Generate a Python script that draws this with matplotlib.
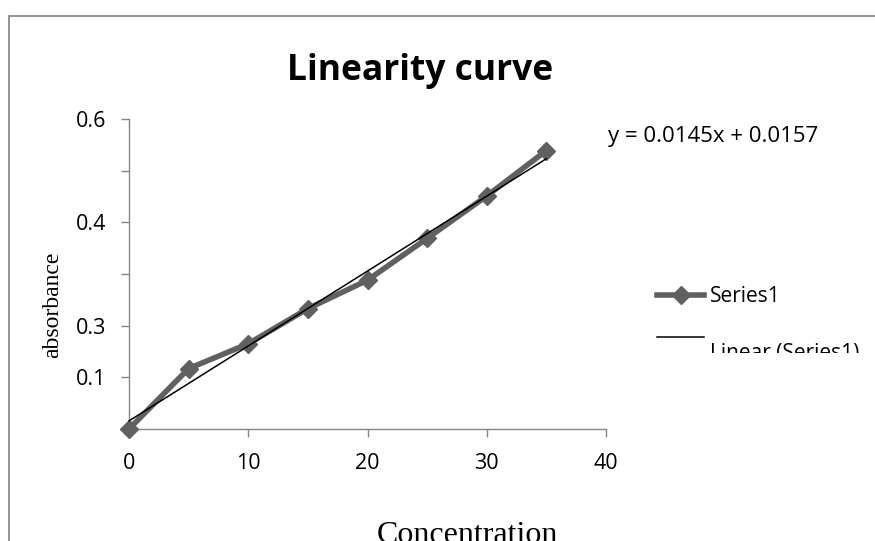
import matplotlib
matplotlib.use("Agg")
import matplotlib.pyplot as plt
from matplotlib.patches import Rectangle
from matplotlib.transforms import Bbox, TransformedBbox, offset_copy

# ---- data ----
concentration = [0, 5, 10, 15, 20, 25, 30, 35]
absorbance = [0.0, 0.117, 0.165, 0.233, 0.288, 0.369, 0.451, 0.539]
slope = 0.0145
intercept = 0.0157
x_ticks = [0, 10, 20, 30, 40]
y_ticks = [0.0, 0.1, 0.2, 0.3, 0.4, 0.5, 0.6]
y_tick_labels = ["", "0.1", "0.3", "", "0.4", "", "0.6"]
title = "Linearity curve"
equation = "y = 0.0145x + 0.0157"
series_name = "Series1"
trend_name = "Linear (Series1)"

W, H, DPI = 875, 541, 100
fig = plt.figure(figsize=(W / DPI, H / DPI), dpi=DPI)
fig.patch.set_facecolor("white")

SANS = ["Open Sans", "DejaVu Sans"]
SERIF = ["Liberation Serif", "DejaVu Serif"]
gray_axis = "#868686"
series_col = "#606060"

# chart border (extends beyond right and bottom edges)
fig.patches.append(Rectangle((8.5 / W, -0.05), 1.2, 1 - 16 / H + 0.05,
                             transform=fig.transFigure, fill=False,
                             edgecolor="#8a8a8a", linewidth=1.3))

ax = fig.add_axes([129 / W, 1 - 429 / H, (606 - 129) / W, (429 - 119) / H])
ax.set_xlim(0, 40)
ax.set_ylim(0, 0.6)

ax.plot(concentration, absorbance, color=series_col, linewidth=4.0,
        marker="D", markersize=9.5, markerfacecolor=series_col,
        markeredgecolor=series_col, clip_on=False, zorder=3, label=series_name)
xt = [concentration[0], concentration[-1]]
ax.plot(xt, [slope * v + intercept for v in xt], color="black", linewidth=1.1,
        zorder=4, label=trend_name, clip_on=False)

for s in ["top", "right"]:
    ax.spines[s].set_visible(False)
for s in ["left", "bottom"]:
    ax.spines[s].set_color(gray_axis)
    ax.spines[s].set_linewidth(1.0)

ax.set_xticks(x_ticks)
ax.set_xticklabels([str(v) for v in x_ticks])
ax.set_yticks(y_ticks)
ax.set_yticklabels(y_tick_labels)
ax.tick_params(axis="both", direction="out", length=5.5, width=1.0,
               color=gray_axis, labelsize=15.5)
ax.tick_params(axis="x", pad=11.5)
ax.tick_params(axis="y", pad=11)
for lab in ax.get_xticklabels() + ax.get_yticklabels():
    lab.set_family(SANS)

fig.text(420 / W, 1 - 80 / H, title, ha="center", va="baseline",
         fontsize=25.5, fontweight="bold", family=SANS)
fig.text(608 / W, 1 - 136 / H, equation, ha="left", va="center",
         fontsize=16, family=SANS)

fig.text(53 / W, 1 - 305 / H, "absorbance", rotation=90, ha="center",
         va="center", fontsize=17, family=SERIF)
fig.text(467 / W, 1 - 543 / H, "Concentration", ha="center", va="baseline",
         fontsize=23, family=SERIF)

leg = ax.legend(loc="center left", bbox_to_anchor=(657 / W, 1 - 317.5 / H),
                bbox_transform=fig.transFigure, frameon=False,
                prop={"family": SANS, "size": 15}, handlelength=2.26,
                handletextpad=0.29, labelspacing=1.0, borderpad=0,
                borderaxespad=0, markerscale=0.95)
texts = leg.get_texts()
# the trend-line label sits lower than its key and is cut off by the chart area
texts[1].set_transform(offset_copy(texts[1].get_transform(), fig=fig,
                                   x=0, y=-15, units="dots"))
clip = TransformedBbox(Bbox([[0, 1 - 352.5 / H], [1, 1]]), fig.transFigure)
for t in texts:
    t.set_clip_box(clip)
    t.set_clip_on(True)

fig.savefig("out.png", dpi=DPI)
